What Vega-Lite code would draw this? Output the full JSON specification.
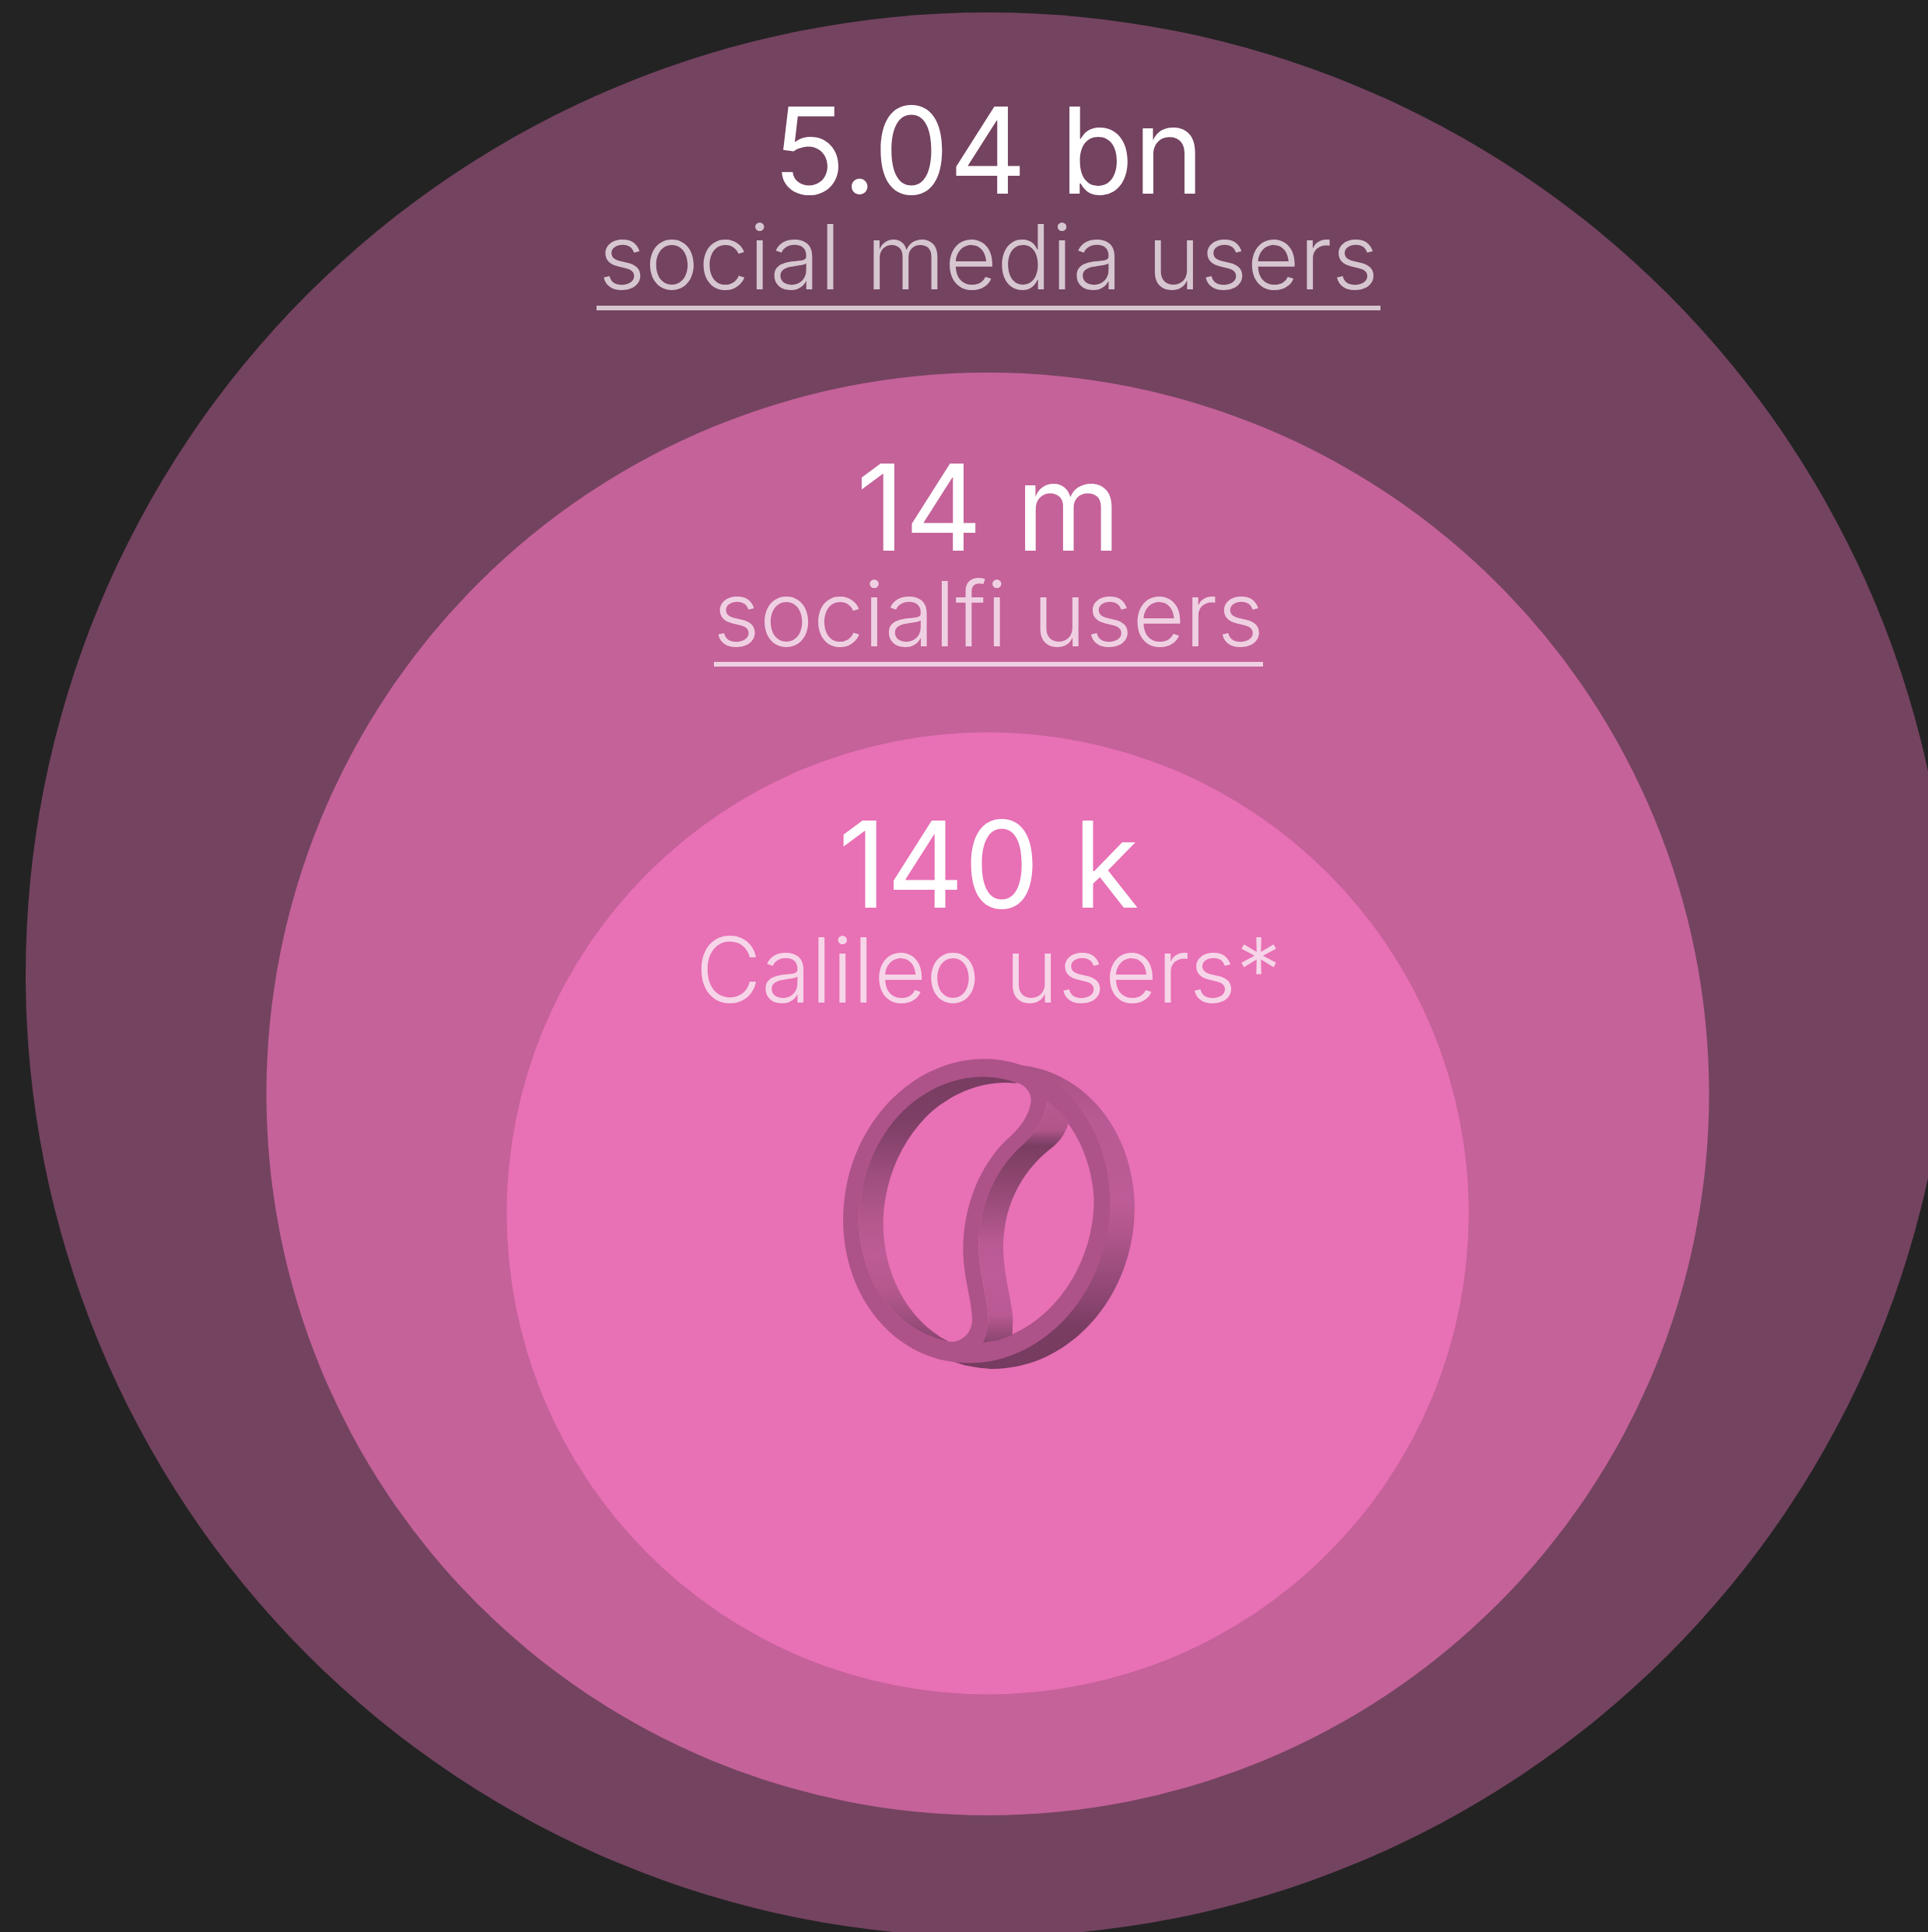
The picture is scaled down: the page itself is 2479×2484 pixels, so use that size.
{"$schema":"https://vega.github.io/schema/vega-lite/v6.json","width":2479,"height":2484,"padding":0,"autosize":{"type":"none"},"background":"#232323","config":{"view":{"stroke":null}},
"datasets":{
"users":[{"group":"social media users","display":"5.04 bn","value":5040000000,"underlined":true},{"group":"socialfi users","display":"14 m","value":14000000,"underlined":true},{"group":"Calileo users*","display":"140 k","value":140000,"underlined":false}],
"logo":[{"piece":"back"},{"piece":"front"},{"piece":"holeL"},{"piece":"holeR"},{"piece":"wallL"},{"piece":"wallR"}]
},
"layer":[
{"data":{"name":"users"},"mark":{"type":"point","filled":true,"opacity":1,"shape":"circle","strokeWidth":0},
"encoding":{
"x":{"field":"group","type":"nominal","axis":null,"scale":{"type":"point","domain":["social media users","socialfi users","Calileo users*"],"range":[1270,1270],"padding":0}},
"y":{"field":"group","type":"nominal","axis":null,"scale":{"type":"point","domain":["social media users","socialfi users","Calileo users*"],"range":[1253,1560],"padding":0}},
"size":{"field":"group","type":"nominal","legend":null,"scale":{"type":"ordinal","domain":["social media users","socialfi users","Calileo users*"],"range":[6120676,3441025,1530169]}},
"color":{"field":"group","type":"nominal","legend":null,"scale":{"domain":["social media users","socialfi users","Calileo users*"],"range":["#744360","#C46299","#E870B5"]}}}},
{"data":{"name":"logo"},"transform":[{"filter":"datum.piece === 'back'"}],"mark":{"type":"point","filled":true,"opacity":1,"size":0.4444,"strokeWidth":0,"shape":"M830.5 95.4 A589.5 511 -78.4 1 1 593.5 1250.6 A589.5 511 -78.4 1 1 830.5 95.4 Z","fill":{"gradient":"linear","x1":0,"y1":0,"x2":0,"y2":1,"stops":[{"offset":0,"color":"#A85285"},{"offset":0.18,"color":"#B85A93"},{"offset":0.45,"color":"#BD5C96"},{"offset":0.56,"color":"#B0558C"},{"offset":0.67,"color":"#9C4D7E"},{"offset":0.78,"color":"#8A4570"},{"offset":0.86,"color":"#7A3D62"},{"offset":1,"color":"#763B60"}]}},
"encoding":{
"x":{"datum":"logo","type":"nominal","axis":null,"scale":{"type":"point","domain":["logo"],"range":[1050,1050],"padding":0}},
"y":{"datum":"logo","type":"nominal","axis":null,"scale":{"type":"point","domain":["logo"],"range":[1340,1340],"padding":0}}}},
{"data":{"name":"logo"},"transform":[{"filter":"datum.piece === 'front' || datum.piece === 'holeL' || datum.piece === 'holeR'"}],"mark":{"type":"point","filled":true,"opacity":1,"size":0.4444,"strokeWidth":0},
"encoding":{
"x":{"datum":"logo","type":"nominal","axis":null,"scale":{"type":"point","domain":["logo"],"range":[1050,1050],"padding":0}},
"y":{"datum":"logo","type":"nominal","axis":null,"scale":{"type":"point","domain":["logo"],"range":[1340,1340],"padding":0}},
"fill":{"field":"piece","type":"nominal","legend":null,"scale":{"domain":["front","holeL","holeR"],"range":["#AD5389","#E870B5","#E870B5"]}},
"shape":{"field":"piece","type":"nominal","legend":null,"scale":{"domain":["front","holeL","holeR"],"range":[
"M735.5 73.4 A589.5 511 -78.4 1 1 498.5 1228.6 A589.5 511 -78.4 1 1 735.5 73.4 Z",
"M770 155 A529.5 451 -78.4 0 0 298 303 A529.5 451 -78.4 0 0 163 690 A529.5 451 -78.4 0 0 234 955 A529.5 451 -78.4 0 0 510 1155 C560 1160 600 1120 600 1070 C600 1000 565 900 565 800 C565 620 640 460 740 370 C780 335 815 290 825 240 C835 205 810 165 770 155 Z",
"M888 228 A529.5 451 -78.4 0 1 1070 610 A529.5 451 -78.4 0 1 640 1160 C655 1130 662 1100 662 1060 C662 1000 625 890 625 780 C625 620 700 480 790 400 C840 355 885 290 888 228 Z"
]}}}},
{"data":{"name":"logo"},"transform":[{"filter":"datum.piece === 'wallL'"}],"mark":{"type":"point","filled":true,"opacity":1,"size":0.4444,"strokeWidth":0,"shape":"M770 155 A529.5 451 -78.4 0 0 298 303 A529.5 451 -78.4 0 0 163 690 A529.5 451 -78.4 0 0 234 955 A529.5 451 -78.4 0 0 510 1155 A529.5 451 -78.4 0 1 322 966 A529.5 451 -78.4 0 1 258 665 A529.5 451 -78.4 0 1 420 290 A529.5 451 -78.4 0 1 770 158 Z","fill":{"gradient":"linear","x1":0,"y1":0,"x2":0,"y2":1,"stops":[{"offset":0,"color":"#7A3D62"},{"offset":0.16,"color":"#7D3F65"},{"offset":0.26,"color":"#8A4570"},{"offset":0.38,"color":"#9F4E80"},{"offset":0.55,"color":"#B5588E"},{"offset":0.67,"color":"#BD5C96"},{"offset":0.8,"color":"#B5588E"},{"offset":0.9,"color":"#A05080"},{"offset":1,"color":"#8A4570"}]}},
"encoding":{
"x":{"datum":"logo","type":"nominal","axis":null,"scale":{"type":"point","domain":["logo"],"range":[1050,1050],"padding":0}},
"y":{"datum":"logo","type":"nominal","axis":null,"scale":{"type":"point","domain":["logo"],"range":[1340,1340],"padding":0}}}},
{"data":{"name":"logo"},"transform":[{"filter":"datum.piece === 'wallR'"}],"mark":{"type":"point","filled":true,"opacity":1,"size":0.4444,"strokeWidth":0,"shape":"M888 228 A529.5 451 -78.4 0 1 972 305 C965 345 940 380 910 405 C810 480 720 610 720 790 C720 900 755 1000 757 1070 L755 1130 L700 1150 L640 1160 C655 1130 662 1100 662 1060 C662 1000 625 890 625 780 C625 620 700 480 790 400 C840 355 885 290 888 228 Z","fill":{"gradient":"linear","x1":0,"y1":0,"x2":0,"y2":1,"stops":[{"offset":0,"color":"#B85A93"},{"offset":0.12,"color":"#B05589"},{"offset":0.16,"color":"#8A4570"},{"offset":0.185,"color":"#7A3D62"},{"offset":0.26,"color":"#854269"},{"offset":0.355,"color":"#914872"},{"offset":0.45,"color":"#A04F80"},{"offset":0.59,"color":"#BA5A94"},{"offset":0.72,"color":"#BD5C96"},{"offset":0.88,"color":"#BA5A94"},{"offset":0.965,"color":"#964A77"},{"offset":1,"color":"#8A4570"}]}},
"encoding":{
"x":{"datum":"logo","type":"nominal","axis":null,"scale":{"type":"point","domain":["logo"],"range":[1050,1050],"padding":0}},
"y":{"datum":"logo","type":"nominal","axis":null,"scale":{"type":"point","domain":["logo"],"range":[1340,1340],"padding":0}}}},
{"data":{"name":"users"},"mark":{"type":"text","align":"center","baseline":"alphabetic","font":"Inter","fontWeight":400,"fontSize":154,"fill":"#FFFFFF"},
"encoding":{
"x":{"field":"group","type":"nominal","axis":null,"scale":{"type":"point","domain":["social media users","socialfi users","Calileo users*"],"range":[1271,1271],"padding":0}},
"y":{"field":"group","type":"nominal","axis":null,"scale":{"type":"point","domain":["social media users","socialfi users","Calileo users*"],"range":[249,1167],"padding":0}},
"text":{"field":"display"}}},
{"data":{"name":"users"},"mark":{"type":"text","align":"center","baseline":"alphabetic","font":"Inter","fontWeight":300,"fontSize":116},
"encoding":{
"x":{"field":"group","type":"nominal","axis":null,"scale":{"type":"point","domain":["social media users","socialfi users","Calileo users*"],"range":[1271,1271],"padding":0}},
"y":{"field":"group","type":"nominal","axis":null,"scale":{"type":"point","domain":["social media users","socialfi users","Calileo users*"],"range":[372,1289],"padding":0}},
"text":{"field":"group"},
"color":{"field":"group","type":"nominal","legend":null,"scale":{"domain":["social media users","socialfi users","Calileo users*"],"range":["#D6C6D0","#EFD0E2","#F6D5E8"]}}}},
{"data":{"name":"users"},"transform":[{"filter":"datum.underlined"}],"mark":{"type":"tick","orient":"horizontal","thickness":6,"opacity":1},
"encoding":{
"x":{"field":"group","type":"nominal","axis":null,"scale":{"type":"point","domain":["social media users","socialfi users"],"range":[1271,1271],"padding":0}},
"y":{"field":"group","type":"nominal","axis":null,"scale":{"type":"point","domain":["social media users","socialfi users"],"range":[396,854],"padding":0}},
"size":{"field":"group","type":"nominal","legend":null,"scale":{"type":"ordinal","domain":["social media users","socialfi users"],"range":[1008,706]}},
"color":{"field":"group","type":"nominal","legend":null,"scale":{"domain":["social media users","socialfi users"],"range":["#D6C6D0","#EFD0E2"]}}}}
],
"resolve":{"scale":{"x":"independent","y":"independent","size":"independent","color":"independent","fill":"independent","stroke":"independent","shape":"independent"}}}
